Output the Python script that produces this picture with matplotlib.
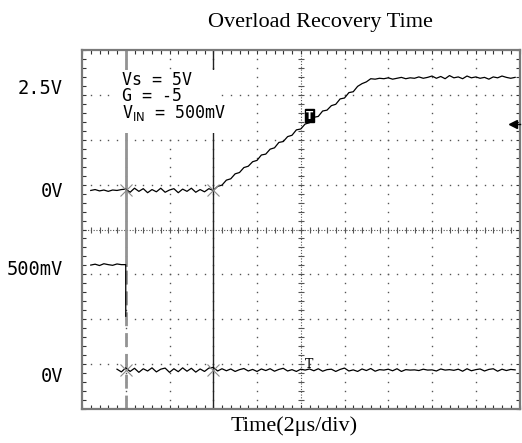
import numpy as np
import matplotlib
matplotlib.use("Agg")
import matplotlib.pyplot as plt
from matplotlib.patches import Rectangle

# ---------------- data ----------------
# sample times in microseconds (2 us/div, 10 div)
t_us = [0.4, 0.6, 0.8, 1.0, 1.2, 1.4, 1.6, 1.8, 2.0, 2.2,
        2.4, 2.6, 2.8, 3.0, 3.2, 3.4, 3.6, 3.8, 4.0, 4.2,
        4.4, 4.6, 4.8, 5.0, 5.2, 5.4, 5.6, 5.8, 6.0, 6.2,
        6.4, 6.6, 6.8, 7.0, 7.2, 7.4, 7.6, 7.8, 8.0, 8.2,
        8.4, 8.6, 8.8, 9.0, 9.2, 9.4, 9.6, 9.8, 10.0, 10.2,
        10.4, 10.6, 10.8, 11.0, 11.2, 11.4, 11.6, 11.8, 12.0, 12.2,
        12.4, 12.6, 12.8, 13.0, 13.2, 13.4, 13.6, 13.8, 14.0, 14.2,
        14.4, 14.6, 14.8, 15.0, 15.2, 15.4, 15.6, 15.8, 16.0, 16.2,
        16.4, 16.6, 16.8, 17.0, 17.2, 17.4, 17.6, 17.8, 18.0, 18.2,
        18.4, 18.6, 18.8, 19.0, 19.2, 19.4, 19.6, 19.8]

# CH1: amplifier output (V)
ch1_v = [0.00, 0.02, -0.01, 0.01, -0.02, 0.01, 0.00, 0.02,
         0.03, -0.04, 0.05, -0.02, 0.04, -0.05, 0.02, -0.03, 0.05, -0.04,
         0.01, 0.04, -0.05, 0.03, -0.02, 0.05, -0.04, 0.02, -0.03, 0.04,
         0.00,
         0.09, 0.12, 0.23, 0.26, 0.37, 0.40, 0.51, 0.54, 0.64, 0.67,
         0.79, 0.81, 0.92, 0.95, 1.07, 1.09, 1.20, 1.23, 1.35, 1.37,
         1.48, 1.51, 1.63, 1.65, 1.77, 1.79, 1.89, 1.92, 2.04, 2.06,
         2.18, 2.20, 2.32, 2.38, 2.42, 2.49,
         2.48, 2.50, 2.49, 2.51, 2.48, 2.50, 2.52, 2.49, 2.51, 2.50,
         2.53, 2.50, 2.52, 2.55, 2.50, 2.54, 2.49, 2.56, 2.51, 2.53,
         2.49, 2.55, 2.51, 2.53, 2.50, 2.52, 2.48, 2.53, 2.51, 2.55,
         2.52, 2.50, 2.52]

# CH2: input step (V) - high part, then low part from 1.6 us
ch2_high_t = [0.4, 0.6, 0.8, 1.0, 1.2, 1.4, 1.6, 1.8, 2.0, 2.0]
ch2_high_v = [0.468, 0.472, 0.466, 0.474, 0.470, 0.467, 0.473, 0.470, 0.470, 0.24]
ch2_low_v = [0.004, -0.008, 0.010, -0.006, 0.008, -0.010, 0.006, -0.004, 0.010, -0.008,
             0.004, 0.009, -0.010, 0.006, -0.007, 0.010, -0.005, 0.008, -0.009, 0.005,
             -0.006, 0.009, 0.012,
             -0.004, 0.006, -0.003, 0.005, -0.006, 0.002, 0.007, -0.004, 0.003, -0.006,
             0.005, -0.002, 0.006, -0.005, 0.003, 0.008, -0.004, 0.002, -0.006, 0.004,
             0.000, 0.005, -0.003, 0.006, -0.005, 0.002, 0.004, -0.006, 0.003, 0.009,
             -0.004, 0.001, -0.006, 0.005, -0.002, 0.007, -0.005, 0.002, 0.000, 0.004,
             -0.003, 0.006, -0.006, 0.002, 0.000, 0.001, -0.002, 0.004, 0.000, 0.001,
             -0.004, 0.005, 0.000, 0.002, -0.001, 0.004, -0.005, 0.006, -0.003, 0.002,
             0.005, -0.004, 0.003, 0.006, -0.005, 0.004, -0.002, 0.003, 0.001]
ch2_low_start = 6  # index into t_us (1.6 us)

# channel settings
ch1_zero_div, ch1_v_per_div = 4.87, 1.0
ch2_zero_div, ch2_v_per_div = 0.867, 0.2

cursor_t = [2.0, 6.0]
trigger_t = 10.4
trigger_level_v = 1.49

ylabels = ["2.5V", "0V", "500mV", "0V"]
ylabel_pos = [7.03, 4.73, 2.98, 0.61]

info_lines = ["Vs = 5V", "G = -5", r"V$_{\mathrm{IN}}$ = 500mV"]

title = "Overload Recovery Time"
xlabel = "Time(2μs/div)"

# ---------------- figure ----------------
W, H = 522, 443
fig = plt.figure(figsize=(W / 100, H / 100), dpi=100)
L, R, T, B = 82, 519.5, 50, 409
ax = fig.add_axes([L / W, 1 - B / H, (R - L) / W, (B - T) / H])
ax.set_xlim(0, 20)
ax.set_ylim(0, 8)

grid_c = "#555555"
# major dotted grid (dots every 0.2 div)
ydots = np.arange(0, 8.001, 0.2)
xdots = np.arange(0, 20.001, 0.4)
for gx in [2, 4, 6, 8, 12, 14, 16, 18]:
    ax.plot(np.full_like(ydots, gx), ydots, ls="none", marker="s", ms=1.0,
            mew=0, color=grid_c, zorder=1)
for gy in [1, 2, 3, 5, 6, 7]:
    ax.plot(xdots, np.full_like(xdots, gy), ls="none", marker="s", ms=1.0,
            mew=0, color=grid_c, zorder=1)
# center lines with fine ticks
ax.plot([10, 10], [0, 8], ls=(0, (1, 1.5)), lw=0.8, color=grid_c, zorder=1)
ax.plot([0, 20], [4, 4], ls=(0, (1, 1.5)), lw=0.8, color=grid_c, zorder=1)
ax.plot(np.full_like(ydots, 10), ydots, ls="none", marker="_", ms=4, mew=0.8,
        color=grid_c, zorder=1)
ax.plot(xdots, np.full_like(xdots, 4), ls="none", marker="|", ms=4, mew=0.8,
        color=grid_c, zorder=1)

# border ticks
ax.set_xticks(np.arange(0, 20.001, 2))
ax.set_xticks(np.arange(0, 20.001, 0.4), minor=True)
ax.set_yticks(np.arange(0, 8.001, 1))
ax.set_yticks(np.arange(0, 8.001, 0.2), minor=True)
ax.tick_params(which="both", direction="in", length=3, width=0.8,
               color="#333333", top=True, right=True,
               labelbottom=False, labelleft=False)
for s in ax.spines.values():
    s.set_color("#7a7a7a")
    s.set_linewidth(1.6)

# cursors
ax.plot([cursor_t[0]] * 2, [3.2, 8], color="#939393", lw=2.0, zorder=2)
ax.plot([cursor_t[0]] * 2, [0, 3.2], color="#939393", lw=2.0,
        ls=(0, (5, 2.5)), zorder=2)
ax.plot([cursor_t[1]] * 2, [0, 8], color="#222222", lw=1.0, zorder=2)

# info box background
ax.add_patch(Rectangle((1.51, 6.15), 4.62, 1.40, fc="white", ec="none", zorder=3))

# traces
t = np.array(t_us)
ch1 = ch1_zero_div + np.array(ch1_v) / ch1_v_per_div
ax.plot(t, ch1, color="black", lw=0.9, zorder=5)
ax.plot(ch2_high_t, ch2_zero_div + np.array(ch2_high_v) / ch2_v_per_div,
        color="black", lw=0.9, zorder=5)
ax.plot(t[ch2_low_start:], ch2_zero_div + np.array(ch2_low_v) / ch2_v_per_div,
        color="black", lw=0.9, zorder=5)

# cursor X markers
for ct in cursor_t:
    for z in (ch1_zero_div, ch2_zero_div):
        ax.plot(ct, z, marker="x", ms=9, mew=0.8, color="#8a8a8a", zorder=6)

# trigger markers
trig_y1 = ch1_zero_div + ((trigger_t - 6.0) * 2.5 / 7.2) / ch1_v_per_div
ax.text(trigger_t, trig_y1 + 0.03, "T", color="white", fontsize=7.5,
        fontweight="bold", family="DejaVu Sans", ha="center", va="bottom",
        zorder=7, bbox=dict(boxstyle="square,pad=0.12", fc="black", ec="black"))
ax.text(trigger_t, ch2_zero_div - 0.02, "T", color="black", fontsize=9,
        family="DejaVu Serif", ha="center", va="bottom", zorder=7)
lvl = ch1_zero_div + trigger_level_v / ch1_v_per_div
ax.plot([19.72, 20], [lvl, lvl], color="black", lw=1.0, zorder=7, clip_on=False)
ax.plot(19.72, lvl, marker="<", ms=6, color="black", zorder=7, clip_on=False)

# info text (one multi-line block)
mono = ["DejaVu Sans Mono"]
ax.text(1.83, 7.53, "\n".join(info_lines), fontsize=12, family=mono,
        va="top", ha="left", linespacing=0.86, zorder=8)

# y labels
for s, yp in zip(ylabels, ylabel_pos):
    ax.annotate(s, xy=(0, yp), xycoords=("axes fraction", "data"),
                xytext=(-13.7, 0), textcoords="offset points",
                ha="right", va="baseline", fontsize=13.5, family=mono)

serif = ["Liberation Serif", "DejaVu Serif"]
fig.text(320 / W, 1 - 22 / H, title, ha="center", va="center",
         fontsize=16, family=serif)
fig.text(294 / W, 1 - 426 / H, xlabel, ha="center", va="center",
         fontsize=16, family=serif)

fig.savefig("out.png", dpi=100)
